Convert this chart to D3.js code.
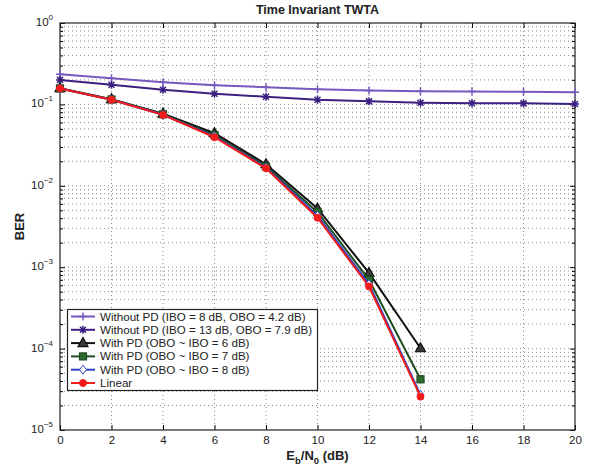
<!DOCTYPE html>
<html>
<head>
<meta charset="utf-8">
<script src="https://cdn.jsdelivr.net/npm/d3@7"></script>
<style>
  body { margin: 0; background: #fff; }
  text { font-family: "Liberation Sans", Arial, sans-serif; }
</style>
</head>
<body>
<svg id="chart"></svg>
<script>
// values
const snrFull = [0, 2, 4, 6, 8, 10, 12, 14, 16, 18, 20];
const snrPd = [0, 2, 4, 6, 8, 10, 12, 14];
const withoutPd8 = [0.235, 0.21, 0.187, 0.172, 0.163, 0.154, 0.148, 0.145, 0.144, 0.143, 0.141];
const withoutPd13 = [0.20, 0.174, 0.151, 0.135, 0.124, 0.114, 0.109, 0.105, 0.1035, 0.103, 0.101];
const pd6 = [0.158, 0.116, 0.077, 0.0442, 0.0184, 0.00527, 0.00085, 0.000101];
const pd7 = [0.157, 0.115, 0.0755, 0.042, 0.0173, 0.00474, 0.00070, 0.000042];
const pd8 = [0.157, 0.114, 0.0745, 0.0405, 0.0168, 0.00430, 0.00062, 0.000027];
const linear = [0.157, 0.114, 0.0743, 0.0395, 0.0164, 0.00405, 0.00058, 0.0000257];
const xTicks = [0, 2, 4, 6, 8, 10, 12, 14, 16, 18, 20];
const yExps = [0, -1, -2, -3, -4, -5];

const series = [
  { name: "Without PD (IBO = 8 dB, OBO = 4.2 dB)", x: snrFull, y: withoutPd8, color: "#7559bd", marker: "plus" },
  { name: "Without PD (IBO = 13 dB, OBO = 7.9 dB)", x: snrFull, y: withoutPd13, color: "#3c2080", marker: "star" },
  { name: "With PD (OBO ~ IBO = 6 dB)", x: snrPd, y: pd6, color: "#111111", marker: "triangle" },
  { name: "With PD (OBO ~ IBO = 7 dB)", x: snrPd, y: pd7, color: "#1e4d1e", marker: "square" },
  { name: "With PD (OBO ~ IBO = 8 dB)", x: snrPd, y: pd8, color: "#2a44c8", marker: "diamond" },
  { name: "Linear", x: snrPd, y: linear, color: "#f21c1c", marker: "circle" }
];

const W = 595, H = 470;
const pLeft = 60, pRight = 575, pTop = 23, pBottom = 430;

const svg = d3.select("#chart").attr("width", W).attr("height", H);

const x = d3.scaleLinear().domain([0, 20]).range([pLeft, pRight]);
const y = d3.scaleLog().domain([1e-5, 1]).range([pBottom, pTop]);

// grid (dotted, matlab style)
const grid = svg.append("g").attr("stroke", "#8a8a8a").attr("stroke-width", 1)
  .attr("stroke-dasharray", "1,3");
xTicks.slice(1, -1).forEach(t => {
  grid.append("line").attr("x1", x(t)).attr("x2", x(t)).attr("y1", pTop).attr("y2", pBottom);
});
const minorY = [];
for (let e = -5; e < 0; e++) for (let m = 1; m < 10; m++) minorY.push(m * Math.pow(10, e));
minorY.filter(v => v > 1e-5).forEach(v => {
  grid.append("line").attr("x1", pLeft).attr("x2", pRight).attr("y1", y(v)).attr("y2", y(v));
});

// axes with inside ticks
const gx = svg.append("g").attr("transform", `translate(0,${pBottom})`)
  .call(d3.axisBottom(x).tickValues(xTicks).tickSizeInner(-5).tickSizeOuter(0).tickPadding(6));
gx.select(".domain").remove();
gx.selectAll("text").attr("font-size", 11.5).attr("fill", "#222")
  .attr("font-family", "Liberation Sans, Arial, sans-serif");
svg.append("g").attr("transform", `translate(0,${pTop})`)
  .call(d3.axisTop(x).tickValues(xTicks).tickSizeInner(-5).tickSizeOuter(0).tickFormat(""))
  .select(".domain").remove();

const yMajor = yExps.map(e => Math.pow(10, e));
const gy = svg.append("g").attr("transform", `translate(${pLeft},0)`)
  .call(d3.axisLeft(y).tickValues(yMajor).tickSizeInner(-5).tickSizeOuter(0).tickFormat(""));
gy.select(".domain").remove();
svg.append("g").attr("transform", `translate(${pRight},0)`)
  .call(d3.axisRight(y).tickValues(yMajor).tickSizeInner(-5).tickSizeOuter(0).tickFormat(""))
  .select(".domain").remove();
const minorTicks = minorY.filter(v => !yMajor.includes(v));
svg.append("g").attr("transform", `translate(${pLeft},0)`)
  .call(d3.axisLeft(y).tickValues(minorTicks).tickSizeInner(-3).tickSizeOuter(0).tickFormat(""))
  .select(".domain").remove();
svg.append("g").attr("transform", `translate(${pRight},0)`)
  .call(d3.axisRight(y).tickValues(minorTicks).tickSizeInner(-3).tickSizeOuter(0).tickFormat(""))
  .select(".domain").remove();

// y tick labels 10^e
yExps.forEach(e => {
  const t = svg.append("text").attr("x", 53).attr("y", y(Math.pow(10, e)) + 3)
    .attr("text-anchor", "end").attr("font-size", 11.5).attr("fill", "#222");
  t.append("tspan").text("10");
  t.append("tspan").attr("dy", -6).attr("font-size", 8).text(e === 0 ? "0" : "\u2212" + (-e));
});

// frame
svg.append("rect").attr("x", pLeft).attr("y", pTop).attr("width", pRight - pLeft).attr("height", pBottom - pTop)
  .attr("fill", "none").attr("stroke", "#222").attr("stroke-width", 1.2);

// lines
const line = d3.line().x(d => x(d[0])).y(d => y(d[1]));
const plot = svg.append("g");

function drawMarker(g, type, cx, cy, color) {
  const s = 4;
  if (type === "plus") {
    g.append("path").attr("d", `M${cx - s},${cy}H${cx + s}M${cx},${cy - s}V${cy + s}`)
      .attr("stroke", color).attr("stroke-width", 1.5).attr("fill", "none");
  } else if (type === "star") {
    const d = s * 0.75;
    g.append("path").attr("d", `M${cx - s},${cy}H${cx + s}M${cx},${cy - s}V${cy + s}M${cx - d},${cy - d}L${cx + d},${cy + d}M${cx - d},${cy + d}L${cx + d},${cy - d}`)
      .attr("stroke", color).attr("stroke-width", 1.5).attr("fill", "none");
  } else if (type === "triangle") {
    g.append("path").attr("d", `M${cx},${cy - 5.5}L${cx + 5},${cy + 3.5}L${cx - 5},${cy + 3.5}Z`)
      .attr("fill", "#3a3a3a").attr("stroke", color).attr("stroke-width", 1.2);
  } else if (type === "square") {
    g.append("rect").attr("x", cx - 3.5).attr("y", cy - 3.5).attr("width", 7).attr("height", 7)
      .attr("fill", "#2f6b2f").attr("stroke", color).attr("stroke-width", 1.2);
  } else if (type === "diamond") {
    g.append("path").attr("d", `M${cx},${cy - 4.5}L${cx + 3.5},${cy}L${cx},${cy + 4.5}L${cx - 3.5},${cy}Z`)
      .attr("fill", "#fff").attr("stroke", color).attr("stroke-width", 1);
  } else if (type === "circle") {
    g.append("circle").attr("cx", cx).attr("cy", cy).attr("r", 3.5)
      .attr("fill", color).attr("stroke", color).attr("stroke-width", 1);
  }
}

series.forEach(s => {
  const pts = s.x.map((v, i) => [v, s.y[i]]);
  plot.append("path").datum(pts).attr("d", line)
    .attr("fill", "none").attr("stroke", s.color).attr("stroke-width", 2);
  const mg = plot.append("g");
  pts.forEach(p => drawMarker(mg, s.marker, x(p[0]), y(p[1]), s.color));
});

// legend
const lg = svg.append("g");
lg.append("rect").attr("x", 67.5).attr("y", 309.5).attr("width", 250).attr("height", 81)
  .attr("fill", "#fff").attr("stroke", "#222").attr("stroke-width", 1.2);
series.forEach((s, i) => {
  const ly = 316.5 + i * 13.3;
  lg.append("line").attr("x1", 71).attr("x2", 95).attr("y1", ly).attr("y2", ly)
    .attr("stroke", s.color).attr("stroke-width", 2);
  drawMarker(lg, s.marker, 83, ly, s.color);
  lg.append("text").attr("x", 100).attr("y", ly + 4).attr("font-size", 11.6).attr("fill", "#222")
    .text(s.name);
});

// title and labels
svg.append("text").attr("x", (pLeft + pRight) / 2).attr("y", 14).attr("text-anchor", "middle")
  .attr("font-size", 12.5).attr("font-weight", "bold").attr("fill", "#222").text("Time Invariant TWTA");

const xl = svg.append("text").attr("x", (pLeft + pRight) / 2).attr("y", 460).attr("text-anchor", "middle")
  .attr("font-size", 13).attr("font-weight", "bold").attr("fill", "#222");
xl.append("tspan").text("E");
xl.append("tspan").attr("dy", 4).attr("font-size", 9.5).text("b");
xl.append("tspan").attr("dy", -4).text("/N");
xl.append("tspan").attr("dy", 4).attr("font-size", 9.5).text("0");
xl.append("tspan").attr("dy", -4).text(" (dB)");

svg.append("text").attr("transform", `translate(24,${(pTop + pBottom) / 2}) rotate(-90)`)
  .attr("text-anchor", "middle").attr("font-size", 13).attr("font-weight", "bold").attr("fill", "#222")
  .text("BER");
</script>
</body>
</html>
